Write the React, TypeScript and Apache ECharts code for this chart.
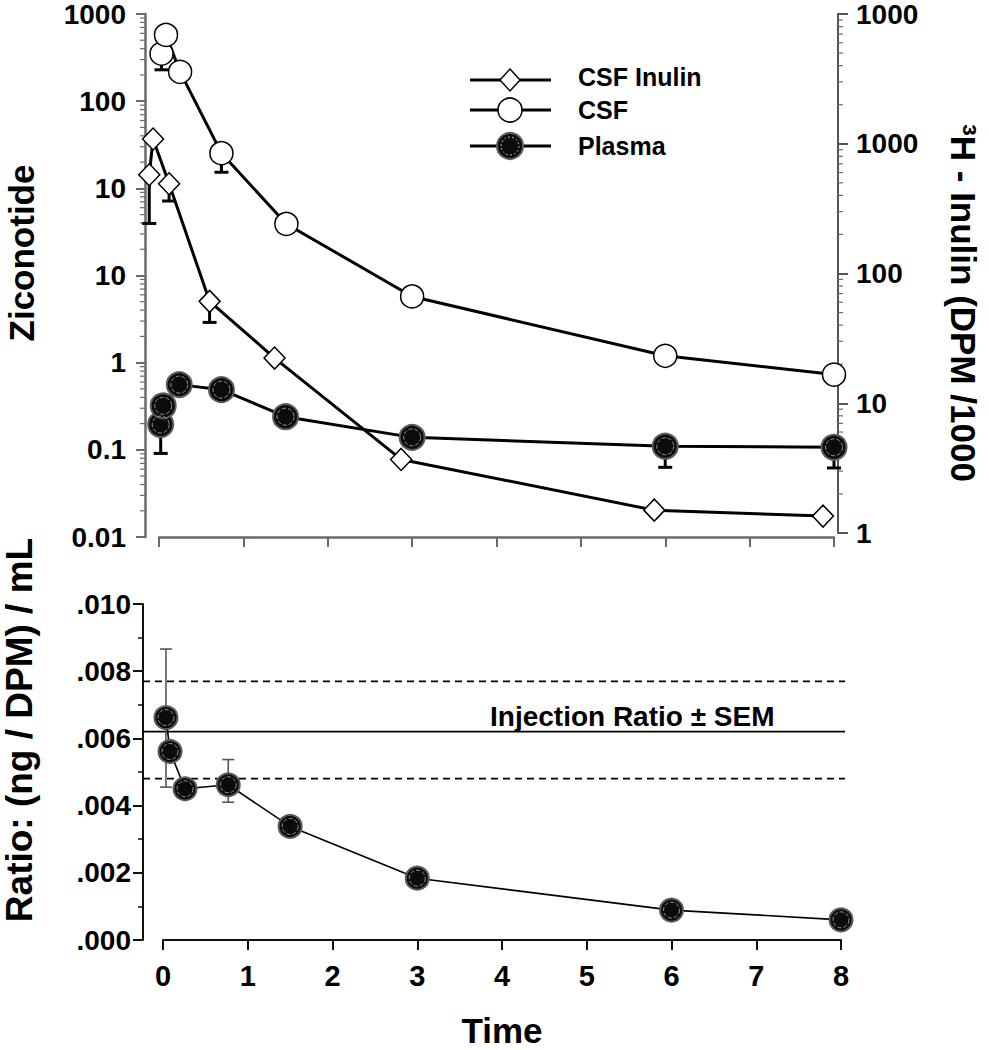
import React, { useEffect, useRef } from "react";
import * as echarts from "echarts";

// ---------- data ----------
// Top panel: Ziconotide (left log axis)
const csfTime = [0.03, 0.083, 0.25, 0.74, 1.51, 3.0, 6.0, 8.0];
const csfZiconotide = [3500, 5750, 2170, 253, 39, 5.75, 1.2, 0.73];
const csfLowerErr = [2290, null, null, 153, null, null, null, null];

const plasmaTime = [0.02, 0.05, 0.24, 0.74, 1.5, 3.0, 6.0, 8.0];
const plasmaZiconotide = [0.195, 0.32, 0.56, 0.49, 0.24, 0.139, 0.11, 0.107];
const plasmaLowerErr = [0.091, null, null, null, null, null, 0.063, 0.062];

// Top panel: 3H-Inulin (right log axis)
const inulinTime = [0.015, 0.06, 0.25, 0.73, 1.5, 3.0, 6.0, 8.0];
const inulinDPM = [577, 1088, 492, 61, 22.3, 3.69, 1.5, 1.35];
const inulinLowerErr = [243, null, 362, 42, null, null, null, null];

// Bottom panel: ratio
const ratioTime = [0.035, 0.083, 0.26, 0.77, 1.5, 3.0, 6.0, 8.0];
const ratioValue = [0.00662, 0.00561, 0.0045, 0.00462, 0.00338, 0.00184, 0.00089, 0.0006];
const ratioErrHigh = [0.00866, null, null, 0.00537, null, null, null, null];
const ratioErrLow = [0.00455, null, null, 0.0041, null, null, null, null];

const injectionRatio = 0.0062;
const injectionSEMHigh = 0.0077;
const injectionSEMLow = 0.0048;

// Tick labels (as printed in the reference)
const leftTickLabels = ["0.01", "0.1", "1", "10", "10", "100", "1000"]; // 0.01 .. 10000
const rightTickLabels = ["1", "10", "100", "1000", "1000"]; // 1 .. 10000
const timeTicks = ["0", "1", "2", "3", "4", "5", "6", "7", "8"];
const ratioTickLabels = [".000", ".002", ".004", ".006", ".008", ".010"];

const legendLabels = ["CSF Inulin", "CSF", "Plasma"];
const minorMultipliers = [2, 3, 4, 5, 6, 7, 8, 9];
const leftDecades = [0.01, 0.1, 1, 10, 100, 1000];
const rightDecades = [1, 10, 100, 1000];

const FONT = "'Liberation Sans', Arial, Helvetica, sans-serif";
const TOP_AXIS = "#6a6a6a";

export default function App() {
  const ref = useRef<HTMLDivElement>(null);

  useEffect(() => {
    if (!ref.current) return;
    const chart = echarts.init(ref.current, undefined, { renderer: "svg" });

    const pairs = (xs: number[], ys: number[]) => xs.map((x, i) => [x, ys[i]]);
    const lowerErr = (xs: number[], ys: number[], lows: (number | null)[]) =>
      xs.map((x, i) => (lows[i] == null ? null : [x, ys[i], lows[i]])).filter(Boolean);

    const topErrRender = (params: any, api: any) => {
      const p = api.coord([api.value(0), api.value(1)]);
      const q = api.coord([api.value(0), api.value(2)]);
      return {
        type: "group",
        children: [
          { type: "line", shape: { x1: p[0], y1: p[1], x2: q[0], y2: q[1] }, style: { stroke: "#000", lineWidth: 3 } },
          { type: "line", shape: { x1: q[0] - 7, y1: q[1], x2: q[0] + 7, y2: q[1] }, style: { stroke: "#000", lineWidth: 3 } },
        ],
      };
    };

    const bothErrRender = (params: any, api: any) => {
      const lo = api.coord([api.value(0), api.value(1)]);
      const hi = api.coord([api.value(0), api.value(2)]);
      const st = { stroke: "#555", lineWidth: 1.6 };
      return {
        type: "group",
        children: [
          { type: "line", shape: { x1: lo[0], y1: lo[1], x2: hi[0], y2: hi[1] }, style: st },
          { type: "line", shape: { x1: hi[0] - 6, y1: hi[1], x2: hi[0] + 6, y2: hi[1] }, style: st },
          { type: "line", shape: { x1: lo[0] - 6, y1: lo[1], x2: lo[0] + 6, y2: lo[1] }, style: st },
        ],
      };
    };

    const minorTickRender = (side: "left" | "right", offset: number) => (params: any, api: any) => {
      const xVal = side === "left" ? 0 : 8;
      const p = api.coord([xVal, api.value(1)]);
      const x = side === "left" ? p[0] - offset : p[0] + offset;
      const x2 = side === "left" ? x - 5 : x + 5;
      return {
        type: "line",
        shape: { x1: x, y1: p[1], x2: x2, y2: p[1] },
        style: { stroke: TOP_AXIS, lineWidth: 1.2 },
      };
    };

    const leftMinor = leftDecades.flatMap((d) => minorMultipliers.map((m) => [0, m * d]));
    const rightMinor = rightDecades.flatMap((d) => minorMultipliers.map((m) => [8, m * d]));

    const ratioErr = ratioTime
      .map((t, i) => (ratioErrHigh[i] == null ? null : [t, ratioErrLow[i], ratioErrHigh[i]]))
      .filter(Boolean);

    const injectionLines = [
      [0, injectionSEMHigh, 1],
      [0, injectionRatio, 0],
      [0, injectionSEMLow, 1],
    ];

    const labelStyle = { fontSize: 28, fontWeight: "bold", color: "#000", fontFamily: FONT };

    const plasmaMarker = {
      symbol: "circle",
      itemStyle: { color: "#0b0b0b", borderColor: "#5a5a5a", borderWidth: 2 },
    };

    const legendY = [80, 110, 146];
    const legendTextY = [77, 110, 146];
    const lx0 = 470, lx1 = 551, lcx = 510;

    const graphic: any[] = [];
    legendLabels.forEach((name, i) => {
      const y = legendY[i];
      graphic.push({ type: "line", shape: { x1: lx0, y1: y, x2: lx1, y2: y }, style: { stroke: "#000", lineWidth: 3 } });
      if (i === 0) {
        graphic.push({
          type: "polygon",
          shape: { points: [[lcx, y - 11], [lcx + 10, y], [lcx, y + 11], [lcx - 10, y]] },
          style: { fill: "#fff", stroke: "#000", lineWidth: 1.5 },
        });
      } else if (i === 1) {
        graphic.push({ type: "circle", shape: { cx: lcx, cy: y, r: 12 }, style: { fill: "#fff", stroke: "#000", lineWidth: 1.5 } });
      } else {
        graphic.push({ type: "circle", shape: { cx: lcx, cy: y, r: 13 }, style: { fill: "#0b0b0b", stroke: "#5a5a5a", lineWidth: 2 } });
        graphic.push({ type: "circle", shape: { cx: lcx, cy: y, r: 9 }, style: { fill: "none", stroke: "#bbb", lineWidth: 1, lineDash: [2, 2] } });
      }
      graphic.push({
        type: "text",
        x: 578,
        y: legendTextY[i],
        style: { text: name, fontSize: 25, fontWeight: "bold", fontFamily: FONT, fill: "#000", align: "left", verticalAlign: "middle" },
      });
    });

    graphic.push(
      {
        type: "text",
        x: 21,
        y: 253,
        rotation: Math.PI / 2,
        style: { text: "Ziconotide", fontSize: 35, fontWeight: "bold", fontFamily: FONT, fill: "#000", align: "center", verticalAlign: "middle" },
      },
      {
        type: "text",
        x: 19,
        y: 730,
        rotation: Math.PI / 2,
        style: { text: "Ratio: (ng / DPM) / mL", fontSize: 37, fontWeight: "bold", fontFamily: FONT, fill: "#000", align: "center", verticalAlign: "middle" },
      },
      {
        type: "text",
        x: 963,
        y: 303,
        rotation: -Math.PI / 2,
        style: { text: "\u00B3H - Inulin (DPM /1000", fontSize: 35, fontWeight: "bold", fontFamily: FONT, fill: "#000", align: "center", verticalAlign: "middle" },
      },
      {
        type: "text",
        x: 502,
        y: 1030,
        style: { text: "Time", fontSize: 35, fontWeight: "bold", fontFamily: FONT, fill: "#000", align: "center", verticalAlign: "middle" },
      },
      {
        type: "text",
        x: 490,
        y: 716,
        style: { text: "Injection Ratio \u00B1 SEM", fontSize: 28, fontWeight: "bold", fontFamily: FONT, fill: "#000", align: "left", verticalAlign: "middle" },
      }
    );

    const option: any = {
      animation: false,
      backgroundColor: "#fff",
      grid: [
        { left: 159, top: 12, width: 675, height: 525 },
        { left: 148, top: 11, width: 675, height: 522 },
        { left: 163, top: 604, width: 678, height: 336 },
      ],
      xAxis: [
        {
          gridIndex: 0, type: "value", min: 0, max: 8, interval: 1,
          axisLine: { show: true, onZero: false, lineStyle: { color: TOP_AXIS, width: 2.5 } },
          axisTick: { show: true, length: 10, lineStyle: { color: TOP_AXIS, width: 2 } },
          axisLabel: { show: false },
          splitLine: { show: false },
        },
        { gridIndex: 1, type: "value", min: 0, max: 8, show: false, axisLine: { onZero: false } },
        {
          gridIndex: 2, type: "value", min: 0, max: 8, interval: 1,
          axisLine: { show: true, onZero: false, lineStyle: { color: "#111", width: 2 } },
          axisTick: { show: true, length: 10, lineStyle: { color: "#111", width: 2 } },
          axisLabel: { ...labelStyle, fontSize: 29, margin: 21, formatter: (v: number) => timeTicks[Math.round(v)] ?? "" },
          splitLine: { show: false },
        },
      ],
      yAxis: [
        {
          gridIndex: 0, type: "log", logBase: 10, min: 0.01, max: 10000, position: "left", offset: 14,
          axisLine: { show: true, onZero: false, lineStyle: { color: TOP_AXIS, width: 2.5 } },
          axisTick: { show: true, length: 9, lineStyle: { color: TOP_AXIS, width: 2 } },
          axisLabel: { ...labelStyle, margin: 19, formatter: (v: number) => leftTickLabels[Math.round(Math.log10(v)) + 2] ?? "" },
          splitLine: { show: false },
        },
        {
          gridIndex: 1, type: "log", logBase: 10, min: 1, max: 10000, position: "right", offset: 15,
          axisLine: { show: true, onZero: false, lineStyle: { color: "#555", width: 2 } },
          axisTick: { show: true, length: 10, lineStyle: { color: "#555", width: 2 } },
          axisLabel: { ...labelStyle, margin: 18, formatter: (v: number) => rightTickLabels[Math.round(Math.log10(v))] ?? "" },
          splitLine: { show: false },
        },
        {
          gridIndex: 2, type: "value", min: 0, max: 0.01, interval: 0.002, position: "left", offset: 20,
          axisLine: { show: true, onZero: false, lineStyle: { color: "#111", width: 2 } },
          axisTick: { show: true, length: 10, lineStyle: { color: "#111", width: 2 } },
          minorTick: { show: true, splitNumber: 2, length: 5, lineStyle: { color: "#111", width: 1.5 } },
          axisLabel: { ...labelStyle, margin: 12, formatter: (v: number) => ratioTickLabels[Math.round(v / 0.002)] ?? "" },
          splitLine: { show: false },
        },
      ],
      graphic,
      series: [
        // minor log ticks
        { type: "custom", xAxisIndex: 0, yAxisIndex: 0, data: leftMinor, renderItem: minorTickRender("left", 14), clip: false, silent: true, z: 1 },
        { type: "custom", xAxisIndex: 1, yAxisIndex: 1, data: rightMinor, renderItem: minorTickRender("right", 15), clip: false, silent: true, z: 1 },
        // error bars (top)
        { type: "custom", xAxisIndex: 0, yAxisIndex: 0, data: lowerErr(csfTime, csfZiconotide, csfLowerErr), renderItem: topErrRender, clip: false, silent: true, z: 1 },
        { type: "custom", xAxisIndex: 0, yAxisIndex: 0, data: lowerErr(plasmaTime, plasmaZiconotide, plasmaLowerErr), renderItem: topErrRender, clip: false, silent: true, z: 1 },
        { type: "custom", xAxisIndex: 1, yAxisIndex: 1, data: lowerErr(inulinTime, inulinDPM, inulinLowerErr), renderItem: topErrRender, clip: false, silent: true, z: 1 },
        // top series
        {
          name: "Plasma", type: "line", xAxisIndex: 0, yAxisIndex: 0, data: pairs(plasmaTime, plasmaZiconotide),
          ...plasmaMarker, symbolSize: 25, lineStyle: { color: "#000", width: 3 }, clip: false, z: 3,
        },
        {
          type: "scatter", xAxisIndex: 0, yAxisIndex: 0, data: pairs(plasmaTime, plasmaZiconotide), symbol: "circle", symbolSize: 17,
          itemStyle: { color: "rgba(0,0,0,0)", borderColor: "#b5b5b5", borderWidth: 1, borderType: "dashed" }, clip: false, silent: true, z: 4,
        },
        {
          name: "CSF Inulin", type: "line", xAxisIndex: 1, yAxisIndex: 1, data: pairs(inulinTime, inulinDPM),
          symbol: "diamond", symbolSize: [21, 22], itemStyle: { color: "#fff", borderColor: "#000", borderWidth: 1.5 },
          lineStyle: { color: "#000", width: 3 }, clip: false, z: 3,
        },
        {
          name: "CSF", type: "line", xAxisIndex: 0, yAxisIndex: 0, data: pairs(csfTime, csfZiconotide),
          symbol: "circle", symbolSize: 23, itemStyle: { color: "#fff", borderColor: "#000", borderWidth: 1.5 },
          lineStyle: { color: "#000", width: 3 }, clip: false, z: 3,
        },
        // bottom panel
        {
          type: "custom", xAxisIndex: 2, yAxisIndex: 2, data: injectionLines, clip: false, silent: true, z: 1,
          renderItem: (params: any, api: any) => {
            const a = api.coord([0, api.value(1)]);
            const b = api.coord([8, api.value(1)]);
            const dashed = api.value(2) === 1;
            return {
              type: "line",
              shape: { x1: a[0] - 20, y1: a[1], x2: b[0] + 4, y2: a[1] },
              style: { stroke: "#000", lineWidth: 1.8, lineDash: dashed ? [7, 5] : null },
            };
          },
        },
        { type: "custom", xAxisIndex: 2, yAxisIndex: 2, data: ratioErr, renderItem: bothErrRender, clip: false, silent: true, z: 1 },
        {
          name: "Ratio", type: "line", xAxisIndex: 2, yAxisIndex: 2, data: pairs(ratioTime, ratioValue),
          ...plasmaMarker, symbolSize: 23, lineStyle: { color: "#000", width: 1.6 }, clip: false, z: 3,
        },
        {
          type: "scatter", xAxisIndex: 2, yAxisIndex: 2, data: pairs(ratioTime, ratioValue), symbol: "circle", symbolSize: 16,
          itemStyle: { color: "rgba(0,0,0,0)", borderColor: "#b5b5b5", borderWidth: 1, borderType: "dashed" }, clip: false, silent: true, z: 4,
        },
      ],
    };

    chart.setOption(option);
    return () => chart.dispose();
  }, []);

  return (
    <div
      ref={ref}
      style={{ position: "fixed", left: 0, top: 0, width: 989, height: 1050, background: "#fff" }}
    />
  );
}
